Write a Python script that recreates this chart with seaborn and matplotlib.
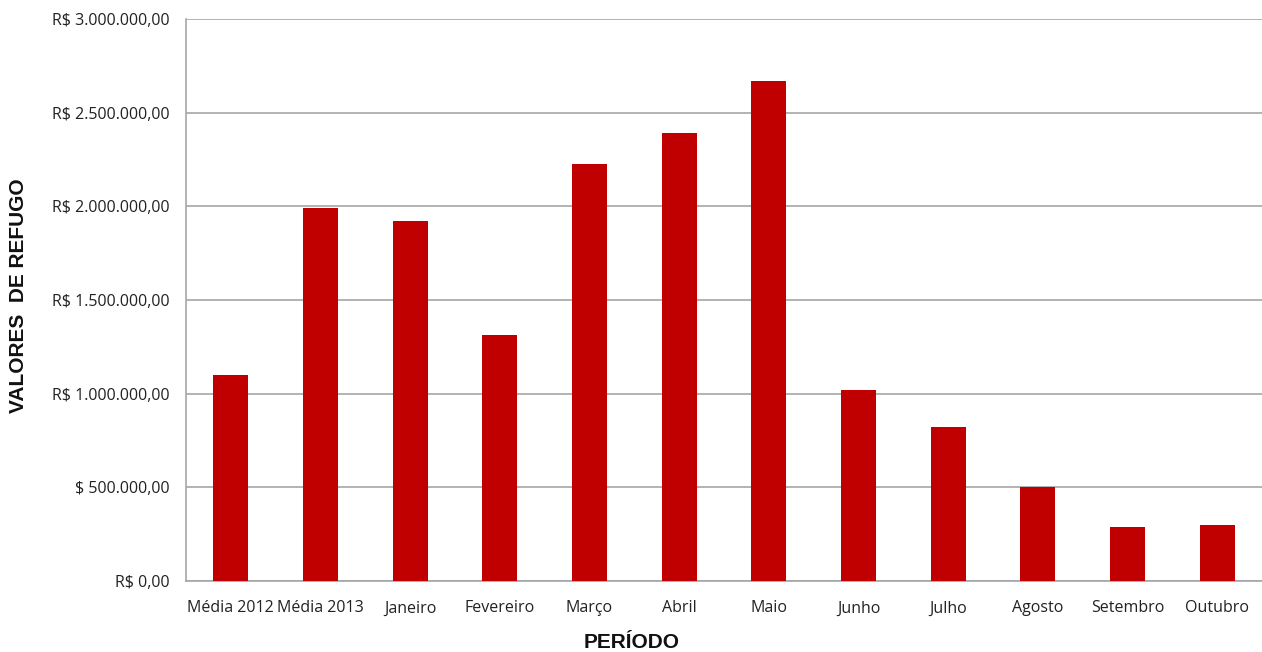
import numpy as np
import pandas as pd
import matplotlib
matplotlib.use("Agg")
import matplotlib.pyplot as plt
import seaborn as sns

# -----------------------------
# Data
# -----------------------------
periodos = ["Média 2012", "Média 2013", "Janeiro", "Fevereiro", "Março", "Abril",
            "Maio", "Junho", "Julho", "Agosto", "Setembro", "Outubro"]
valores = [1100000, 1990000, 1922000, 1313000, 2226000, 2391000,
           2669000, 1020000, 822000, 502000, 288000, 299000]

y_ticks = [0, 500000, 1000000, 1500000, 2000000, 2500000, 3000000]
y_tick_labels = ["R$ 0,00", "$ 500.000,00", "R$ 1.000.000,00", "R$ 1.500.000,00",
                 "R$ 2.000.000,00", "R$ 2.500.000,00", "R$ 3.000.000,00"]

sns.set_theme(style="white")
plt.rcParams["font.family"] = ["Open Sans", "DejaVu Sans"]

df = pd.DataFrame({"periodo": periodos, "valor": valores})

fig = plt.figure(figsize=(12.62, 6.52), dpi=100)
ax = fig.add_axes([186 / 1262, 71 / 652, 1 - 186 / 1262, 562 / 652])

sns.barplot(data=df, x="periodo", y="valor", order=periodos,
            color="#C00000", saturation=1, width=0.39, linewidth=0,
            ax=ax, zorder=3)

ax.set_ylim(0, 3000000)
ax.set_xlim(-0.5, len(periodos) - 0.5)
ax.set_yticks(y_ticks)
ax.set_yticklabels(y_tick_labels, fontsize=11.5, color="#222222")
ax.tick_params(axis="x", labelsize=11.5, colors="#222222", length=0, pad=14)
ax.tick_params(axis="y", length=0, pad=12)
ax.yaxis.grid(True, color="#A6A6A6", lw=1.2, zorder=0)

for s in ["top", "right"]:
    ax.spines[s].set_visible(False)
for s in ["left", "bottom"]:
    ax.spines[s].set_color("#A6A6A6")
    ax.spines[s].set_linewidth(1.2)

ax.set_xlabel("")
ax.set_ylabel("")
fig.text(632 / 1262, 1 - 642 / 652, "PERÍODO", ha="center", va="center",
         fontsize=15, fontweight="bold", family="Liberation Sans", color="#111111")
fig.text(19 / 1262, 1 - 296 / 652, "VALORES  DE REFUGO", ha="center", va="center",
         rotation=90, fontsize=15, fontweight="bold", family="Liberation Sans",
         color="#111111")

plt.savefig("out.png", dpi=100)
